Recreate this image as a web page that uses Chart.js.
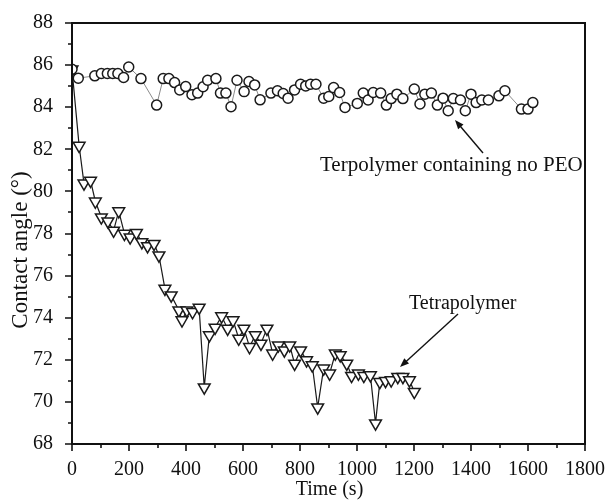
<!DOCTYPE html>
<html>
<head>
<meta charset="utf-8">
<script src="https://cdn.jsdelivr.net/npm/chart.js@4.4.1/dist/chart.umd.min.js"></script>
<style>
  html,body{margin:0;padding:0;background:#fff;}
  #c{display:block;}
</style>
</head>
<body>
<canvas id="c" width="611" height="502"></canvas>
<script>
// ---- data ----
const terTime = [0,22,80,103,124,143,161,181,199,242,297,320,340,360,378,399,421,441,460,476,505,521,540,558,579,604,621,641,660,698,721,741,758,781,802,820,837,856,883,901,918,939,958,1001,1022,1039,1057,1083,1103,1120,1140,1161,1201,1221,1238,1261,1282,1302,1320,1338,1363,1380,1400,1418,1438,1461,1498,1519,1577,1600,1617];
const terAngle = [85.8,85.38,85.49,85.6,85.6,85.6,85.6,85.41,85.91,85.36,84.1,85.36,85.36,85.17,84.82,84.98,84.59,84.67,84.97,85.28,85.36,84.67,84.67,84.02,85.28,84.74,85.22,85.06,84.35,84.67,84.78,84.65,84.43,84.82,85.09,85.01,85.09,85.09,84.43,84.51,84.93,84.7,83.99,84.18,84.67,84.34,84.7,84.67,84.1,84.41,84.62,84.41,84.86,84.15,84.62,84.67,84.1,84.43,83.83,84.41,84.34,83.83,84.62,84.22,84.34,84.34,84.54,84.78,83.91,83.91,84.22];

const tetTime = [0,25,42,65,82,103,126,146,164,184,204,226,245,265,288,305,326,348,375,386,403,423,446,464,482,502,525,546,565,585,603,623,643,663,684,704,724,745,764,781,802,823,843,862,883,904,924,941,964,981,1005,1024,1047,1065,1080,1100,1120,1143,1161,1184,1201];
const tetAngle = [85.8,82.17,80.38,80.51,79.52,78.77,78.58,78.14,79.06,77.99,77.82,78.03,77.59,77.4,77.51,76.96,75.38,75.06,74.35,73.88,74.35,74.27,74.48,70.69,73.17,73.53,74.07,73.48,73.88,73.01,73.48,72.61,73.17,72.77,73.48,72.3,72.69,72.45,72.69,71.82,72.45,71.98,71.74,69.74,71.59,71.35,72.3,72.22,71.82,71.24,71.35,71.24,71.27,68.98,70.95,71.0,71.03,71.19,71.19,71.03,70.48];

const xTicks = [0,200,400,600,800,1000,1200,1400,1600,1800];
const yTicks = [68,70,72,74,76,78,80,82,84,86,88];

const serif = "'Liberation Serif','DejaVu Serif',serif";
const toXY = (ts, vs) => ts.map((t,i)=>({x:t, y:vs[i]}));

// ticks, frame, axis titles and the two callouts
const decor = {
  id: "decor",
  afterDraw(chart){
    const {ctx, chartArea:a, scales:{x, y}} = chart;
    ctx.save();
    ctx.strokeStyle = "#111"; ctx.lineWidth = 2;
    ctx.strokeRect(a.left, a.top, a.right-a.left, a.bottom-a.top);
    ctx.lineWidth = 1.6;
    ctx.beginPath();
    for(let v=0; v<=1800; v+=100){
      const px = Math.round(x.getPixelForValue(v));
      ctx.moveTo(px, a.bottom); ctx.lineTo(px, a.bottom + (v%200===0 ? 7 : 4));
    }
    for(let v=68; v<=88; v+=1){
      const py = Math.round(y.getPixelForValue(v));
      ctx.moveTo(a.left, py); ctx.lineTo(a.left - (v%2===0 ? 7 : 4), py);
    }
    ctx.stroke();

    ctx.fillStyle = "#111";
    ctx.textAlign = "center"; ctx.textBaseline = "middle";
    ctx.font = "20px " + serif;
    ctx.fillText("Time (s)", (a.left+a.right)/2 + 1, 490);
    ctx.save();
    ctx.translate(21, 250);
    ctx.rotate(-Math.PI/2);
    ctx.font = "23px " + serif;
    ctx.fillText("Contact angle (\u00B0)", 0, 0);
    ctx.restore();

    ctx.textAlign = "left"; ctx.textBaseline = "alphabetic";
    ctx.font = "21px " + serif;
    ctx.fillText("Terpolymer containing no PEO", 320, 171);
    ctx.font = "20px " + serif;
    ctx.fillText("Tetrapolymer", 409, 309);

    arrow(ctx, 483, 153, 455, 120);
    arrow(ctx, 458, 314, 400, 367);
    ctx.restore();
  }
};

function arrow(ctx, x1, y1, x2, y2){
  const ang = Math.atan2(y2-y1, x2-x1), L = 9, W = 3.5;
  ctx.strokeStyle = "#111"; ctx.lineWidth = 1.4;
  ctx.beginPath(); ctx.moveTo(x1,y1);
  ctx.lineTo(x2 - Math.cos(ang)*L*0.8, y2 - Math.sin(ang)*L*0.8); ctx.stroke();
  ctx.beginPath();
  ctx.moveTo(x2, y2);
  ctx.lineTo(x2 - Math.cos(ang)*L + Math.sin(ang)*W, y2 - Math.sin(ang)*L - Math.cos(ang)*W);
  ctx.lineTo(x2 - Math.cos(ang)*L - Math.sin(ang)*W, y2 - Math.sin(ang)*L + Math.cos(ang)*W);
  ctx.closePath(); ctx.fill();
}

new Chart(document.getElementById("c"), {
  type: "line",
  data: {
    datasets: [
      {
        label: "Terpolymer containing no PEO",
        data: toXY(terTime, terAngle),
        borderColor: "#8a8a8a", borderWidth: 1,
        pointStyle: "circle", pointRadius: 5,
        pointBorderColor: "#1a1a1a", pointBackgroundColor: "#fff", pointBorderWidth: 1.5,
        tension: 0
      },
      {
        label: "Tetrapolymer",
        data: toXY(tetTime, tetAngle),
        borderColor: "#1a1a1a", borderWidth: 1.2,
        pointStyle: "triangle", rotation: 180, pointRadius: 6.8,
        pointBorderColor: "#1a1a1a", pointBackgroundColor: "#fff", pointBorderWidth: 1.5,
        tension: 0
      }
    ]
  },
  options: {
    responsive: false,
    animation: false,
    devicePixelRatio: 1,
    layout: { padding: { top: 22, right: 20, left: 0, bottom: 0 } },
    plugins: { legend: { display: false }, tooltip: { enabled: false } },
    scales: {
      x: {
        type: "linear", min: 0, max: 1800,
        grid: { display: false }, border: { display: false },
        afterBuildTicks: s => { s.ticks = xTicks.map(v => ({ value: v })); },
        afterFit: s => { s.height = 58; },
        ticks: { color: "#111", font: { family: serif, size: 20 }, padding: 6, maxRotation: 0, autoSkip: false,
                 callback: v => String(v) }
      },
      y: {
        min: 68, max: 88,
        grid: { display: false }, border: { display: false },
        afterBuildTicks: s => { s.ticks = yTicks.map(v => ({ value: v })); },
        afterFit: s => { s.width = 72; },
        ticks: { color: "#111", font: { family: serif, size: 20 }, padding: 11, autoSkip: false }
      }
    }
  },
  plugins: [decor]
});
</script>
</body>
</html>
